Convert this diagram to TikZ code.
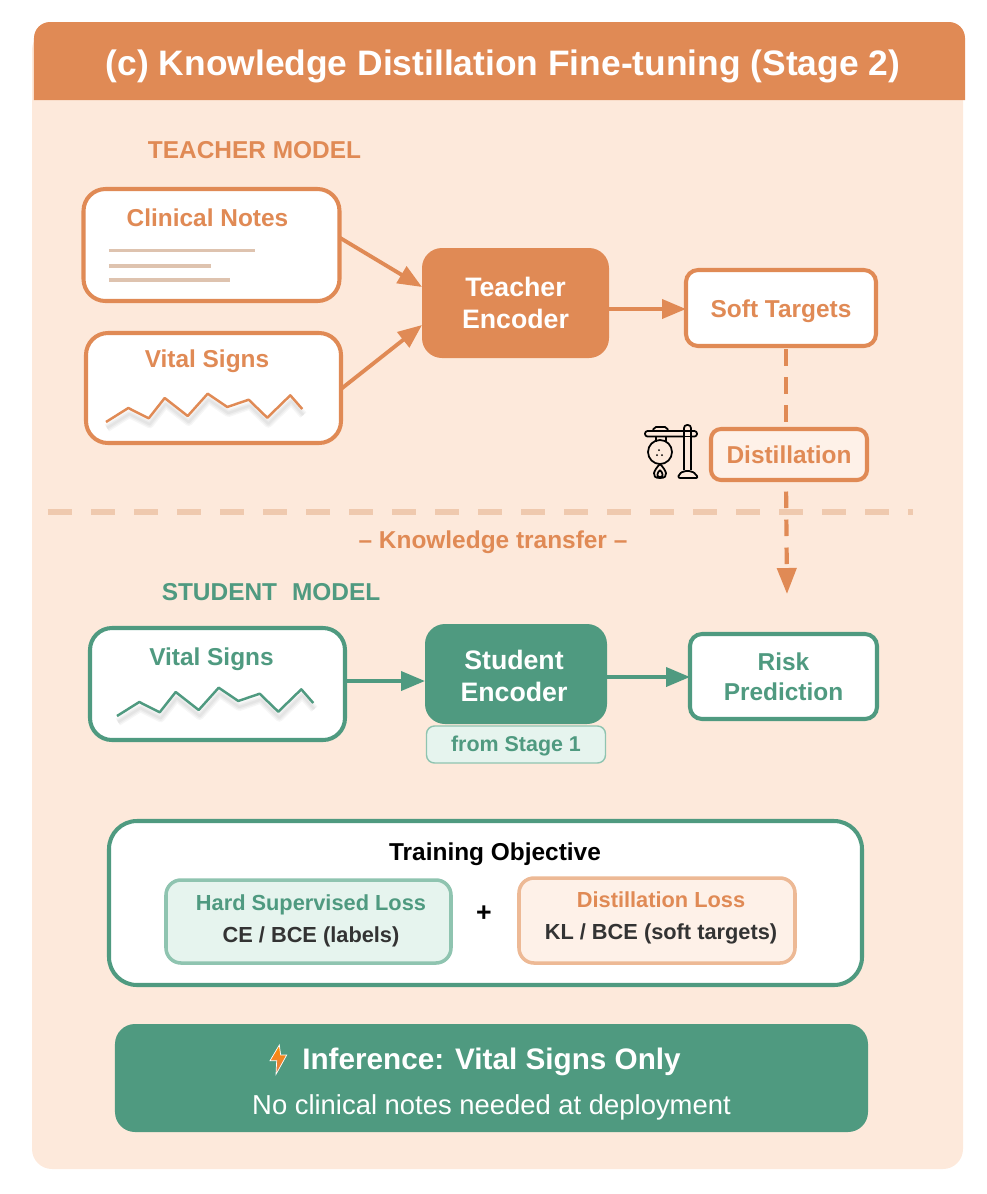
\documentclass[tikz,border=0pt]{standalone}
\usepackage{fontspec}
\setmainfont{Liberation Sans}
\definecolor{sorange}{HTML}{E08A55}
\definecolor{panelbg}{HTML}{FDE9DB}
\definecolor{sgreen}{HTML}{4F9A80}
\definecolor{lgreen}{HTML}{E6F4EE}
\definecolor{mgreen}{HTML}{8FC4B0}
\definecolor{lorange}{HTML}{FEF1E8}
\definecolor{morange}{HTML}{EDB995}
\definecolor{notegray}{HTML}{DEC3AF}
\definecolor{dashpeach}{HTML}{EFC9AE}
\definecolor{darktext}{HTML}{333333}
\usetikzlibrary{arrows.meta,positioning}
\newcommand{\fs}[1]{\fontsize{#1}{#1}\selectfont}
\newcommand{\sparkpath}{-- ++(0.223,0.14) -- ++(0.204,-0.103) -- ++(0.16,0.203)
        -- ++(0.23,-0.18) -- ++(0.2,0.223) -- ++(0.196,-0.133) -- ++(0.214,0.073)
        -- ++(0.186,-0.18) -- ++(0.23,0.224) -- ++(0.12,-0.137)}

\begin{document}
\begin{tikzpicture}[
    outer sep=0pt,
    box/.style    = {draw=#1, line width=1.15pt, fill=white, rounded corners=0.22cm,
                     inner sep=0pt},
    enc/.style    = {fill=#1, rounded corners=0.2cm, text=white, align=center,
                     font=\fs{7.6}\bfseries, inner sep=0pt},
    lab/.style    = {text=#1, font=\fs{6.95}\bfseries, inner sep=0pt},
    loss/.style   = {align=center, text=darktext, font=\fs{6.2}\bfseries, inner sep=0pt},
    arr/.style    = {-{Triangle[length=0.24cm,width=0.19cm]}, line width=1.1pt, color=#1},
    flow/.style   = {dash pattern=on 0.165cm off 0.115cm, line width=1.2pt, color=sorange},
    icon/.style   = {draw=black, line width=0.5pt, fill=none, line join=round},
    sparkline/.pic = {
      \foreach \w in {0.7,1.5,2.3}
        \draw[black, opacity=0.035, line width=\w pt, line join=round] (0.01,-0.06) \sparkpath;
      \draw[pic actions, line width=0.7pt, line join=round] (0,0) \sparkpath;
    },
  ]
    \useasboundingbox (0,0) rectangle (9.86,-11.94);

    % panel and header
    \fill[panelbg, rounded corners=0.2cm] (0.32,-0.3) rectangle (9.63,-11.69);
    \fill[sorange, rounded corners=0.16cm] (0.34,-1.0) -- (0.34,-0.22) -- (9.65,-0.22) -- (9.65,-1.0);
    \node[text=white, font=\fs{10.07}\bfseries, inner sep=0pt] (title) at (5.03,-0.66)
      {(c) Knowledge Distillation Fine-tuning (Stage 2)};

    % teacher side
    \node[lab=sorange] (teacherlab) at (2.545,-1.50) {TEACHER MODEL};
    \node[box=sorange, minimum width=2.56cm, minimum height=1.12cm] (notes) at (2.115,-2.45) {};
    \node[box=sorange, minimum width=2.55cm, minimum height=1.10cm,
          below=0.32cm of notes, xshift=0.02cm] (tvital) {};
    \node[enc=sorange, minimum width=1.87cm, minimum height=1.10cm] (tenc) at (5.155,-3.03)
      {Teacher\\[0.06cm]Encoder};
    \node[box=sorange, minimum width=1.90cm, minimum height=0.76cm, lab=sorange,
          rounded corners=0.12cm, text height=0.237cm,
          right=0.77cm of tenc, yshift=-0.05cm] (soft) {Soft Targets};
    \node[box=sorange, minimum width=1.56cm, minimum height=0.51cm, lab=sorange, fill=lorange,
          rounded corners=0.1cm] (distill) at (7.89,-4.545) {Distillation};

    \node[lab=sorange] (noteslab) at (2.075,-2.18) {Clinical Notes};
    \node[lab=sorange] (tvitallab) at (2.07,-3.61) {Vital Signs};
    \draw[notegray, line width=1.1pt] (1.09,-2.505) -- (2.55,-2.505);
    \draw[notegray, line width=1.1pt] (1.09,-2.66) -- (2.11,-2.66);
    \draw[notegray, line width=1.1pt] (1.09,-2.80) -- (2.30,-2.80);
    \pic[draw=sorange] at (1.06,-4.22) {sparkline};

    % flask on its stand
    \draw[icon, fill=panelbg, rounded corners=0.02cm] (6.53,-4.31) -- (6.54,-4.27) -- (6.67,-4.27) -- (6.68,-4.31);
    \draw[icon, rounded corners=0.025cm] (6.45,-4.31) rectangle (6.97,-4.365);
    \draw[icon] (6.56,-4.365) -- (6.56,-4.42);
    \draw[icon] (6.66,-4.365) -- (6.66,-4.42);
    \draw[icon] (6.60,-4.52) circle (0.12);
    \fill (6.57,-4.55) circle (0.01);
    \fill (6.62,-4.55) circle (0.01);
    \fill (6.59,-4.50) circle (0.01);
    \draw[icon, fill=panelbg, rounded corners=0.03cm] (6.84,-4.70) -- (6.84,-4.25) -- (6.91,-4.25) -- (6.91,-4.70);
    \draw[icon] (6.84,-4.31) -- (6.91,-4.31);
    \draw[icon] (6.84,-4.365) -- (6.91,-4.365);
    \draw[icon, rounded corners=0.02cm] (6.78,-4.78) -- (6.79,-4.74) -- (6.84,-4.71) -- (6.91,-4.71)
      -- (6.96,-4.74) -- (6.98,-4.78) -- cycle;
    \draw[icon] (6.60,-4.64) .. controls (6.54,-4.70) and (6.50,-4.78) .. (6.60,-4.78)
      .. controls (6.70,-4.78) and (6.66,-4.70) .. (6.60,-4.64);
    \draw[icon] (6.60,-4.70) .. controls (6.57,-4.73) and (6.56,-4.77) .. (6.60,-4.77)
      .. controls (6.64,-4.77) and (6.63,-4.73) .. (6.60,-4.70);

    \draw[arr=sorange] ([yshift=0.075cm]notes.east) -- ([yshift=0.16cm]tenc.west);
    \draw[arr=sorange] ([yshift=-0.01cm]tvital.east) -- ([yshift=-0.22cm]tenc.west);
    \draw[arr=sorange] ([yshift=-0.06cm]tenc.east) -- ([yshift=-0.01cm]soft.west);
    \draw[flow, dash phase=0.25cm] ([xshift=0.05cm]soft.south) -- ([xshift=-0.03cm]distill.north);

    % knowledge transfer
    \coordinate (splitl) at (0.48,-5.12);
    \coordinate (splitr) at (9.13,-5.12);
    \coordinate (transfertip) at (7.87,-5.94);
    \draw[dashpeach, line width=1.7pt, dash pattern=on 0.24cm off 0.19cm] (splitl) -- (splitr);
    \draw[flow, dash phase=0.165cm, -{Triangle[length=0.26cm,width=0.19cm]}]
      ([xshift=-0.03cm]distill.south) -- (transfertip);
    \node[lab=sorange] (transfer) at (4.93,-5.42) {-- Knowledge transfer --};

    % student side
    \node[lab=sgreen] (studentlab) at (2.71,-5.92) {STUDENT\,\, MODEL};
    \node[box=sgreen, minimum width=2.55cm, minimum height=1.12cm] (svital) at (2.175,-6.84) {};
    \node[enc=sgreen, minimum width=1.82cm, minimum height=1.00cm] (senc) at (5.16,-6.74) {};
    \node[text=white, align=center, font=\fs{7.6}\bfseries, inner sep=0pt]
      (senctxt) at ([xshift=-0.02cm,yshift=-0.02cm]senc.center) {Student\\[0.06cm]Encoder};
    \node[draw=mgreen, fill=lgreen, line width=0.4pt, rounded corners=0.08cm, minimum width=1.79cm,
          minimum height=0.37cm, lab=sgreen, font=\fs{6.1}\bfseries, text height=0.18cm,
          below=0.02cm of senc] (stage) {from Stage 1};
    \node[box=sgreen, minimum width=1.87cm, minimum height=0.85cm, lab=sgreen, align=center,
          rounded corners=0.12cm, right=0.83cm of senc, yshift=-0.025cm] (risk) {Risk\\[0.06cm]Prediction};
    \node[lab=sgreen] (svitallab) at (2.115,-6.59) {Vital Signs};
    \pic[draw=sgreen] at (1.17,-7.16) {sparkline};

    \draw[arr=sgreen] ([yshift=0.03cm]svital.east) -- ([yshift=-0.07cm]senc.west);
    \draw[arr=sgreen] ([yshift=-0.03cm]senc.east) -- ([yshift=-0.005cm]risk.west);

    % training objective
    \node[box=sgreen, minimum width=7.53cm, minimum height=1.64cm, rounded corners=0.28cm]
      (objective) at (4.855,-9.03) {};
    \node[text=black, font=\fs{6.95}\bfseries, inner sep=0pt] (objlab) at (4.95,-8.54) {Training Objective};
    \node[draw=mgreen, fill=lgreen, line width=1pt, rounded corners=0.15cm, minimum width=2.85cm,
          minimum height=0.83cm] (hard) at (3.085,-9.215) {};
    \node[loss] (hardtxt) at ([xshift=0.025cm,yshift=0.01cm]hard.center)
      {{\color{sgreen}Hard Supervised Loss}\\[0.1cm]CE / BCE (labels)};
    \node[draw=morange, fill=lorange, line width=1pt, rounded corners=0.15cm, minimum width=2.76cm,
          minimum height=0.85cm] (dloss) at (6.57,-9.205) {};
    \node[loss] (dlosstxt) at ([xshift=0.04cm,yshift=0.025cm]dloss.center)
      {{\color{sorange}Distillation Loss}\\[0.1cm]KL / BCE (soft targets)};
    \node[text=black, font=\fs{7.6}\bfseries, inner sep=0pt] (plus) at (4.84,-9.14) {+};

    % inference banner
    \node[fill=sgreen, rounded corners=0.2cm, minimum width=7.53cm, minimum height=1.08cm] (inference)
      at (4.915,-10.78) {};
    \node[align=center, text=white, font=\fs{7.8}, inner sep=0pt] (inftxt)
      at ([yshift=-0.06cm]inference.center)
      {{\fs{8.45}\bfseries Inference: Vital Signs Only}\\[0.18cm]No clinical notes needed at deployment};
    \draw[white, line width=0.2pt, top color=orange!90!yellow, bottom color=sorange!90!red]
      (2.793,-10.45) -- (2.70,-10.607) -- (2.767,-10.607) -- (2.76,-10.743) -- (2.867,-10.55)
      -- (2.807,-10.55) -- cycle;
\end{tikzpicture}
\end{document}
